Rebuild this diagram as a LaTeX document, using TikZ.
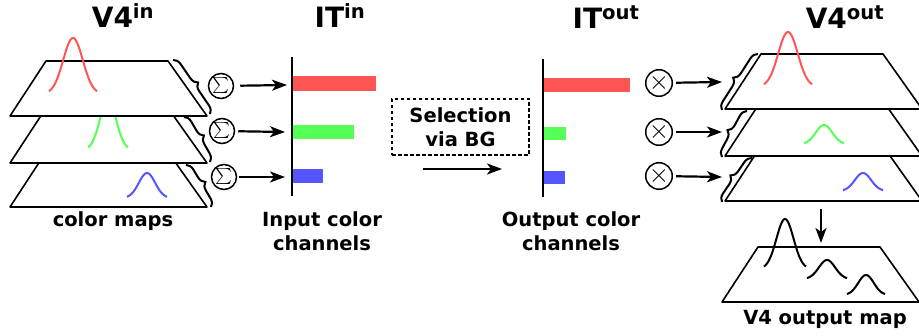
\documentclass[tikz,border=0pt]{standalone}
\usepackage{fontspec}
\usepackage{graphicx}
\setmainfont{DejaVu Sans}
\usetikzlibrary{arrows.meta,decorations.pathreplacing}

\definecolor{mapred}{HTML}{FF5555}
\definecolor{mapgreen}{HTML}{55FF55}
\definecolor{mapblue}{HTML}{5555FF}

\tikzset{
  sheet/.style={fill=white,draw=black,line width=1.6pt,line join=round},
  curve/.style={line width=2pt},
  arr/.style={-{Stealth[length=15pt,width=11pt,inset=4pt]},line width=2.2pt},
  opc/.style={circle,draw,line width=1.5pt,minimum size=25pt,inner sep=0pt},
  brc/.style={decorate,decoration={brace,amplitude=8pt},line width=2pt},
  ttl/.style={font=\fontsize{28}{30}\selectfont\bfseries,anchor=base,inner sep=0pt},
  lbl/.style={font=\fontsize{19.5}{24.5}\selectfont\bfseries,align=center,inner sep=0pt},
}

% map sheet, lower left corner at (#1,#2)
\newcommand{\mapsheet}[2]{%
  \filldraw[sheet] (#1,#2) -- ++(197,0) -- ++(-39,-55) -- ++(-122,0) -- cycle;}
% bump: colour, centre x, base y, half width, height
\newcommand{\bump}[5]{%
  \draw[curve,#1] plot[domain=-1:1,samples=40] ({#2+#4*\x},{#3+2-#5*exp(-3*\x*\x)});}
\newcommand{\sumsym}{\scalebox{1.6}{$\sum$}}
\newcommand{\prodsym}{\scalebox{2.6}{$\times$}}

\begin{document}
\begin{tikzpicture}[x=1pt,y=-1pt]
    \useasboundingbox (0,0) rectangle (919,336);

    % V4 in
    \node[ttl] (v4in) at (123,28) {V4\textsuperscript{in}};
    \mapsheet{10}{207} \bump{mapblue}{147}{196}{20}{25}
    \mapsheet{10}{163} \bump{mapgreen}{108}{148}{20}{50}
    \mapsheet{10}{116} \bump{mapred}{73}{92}{24}{56}
    \draw[brc] (173,60) -- (210,114);
    \draw[brc] (184,117) -- (210,162);
    \draw[brc] (186,165) -- (211,207);
    \node[lbl,anchor=base] (maps) at (113,227) {color maps};

    % sums
    \node[opc] (s1) at (221,86) {\sumsym};
    \node[opc] (s2) at (222,131) {\sumsym};
    \node[opc] (s3) at (224,177) {\sumsym};
    \coordinate (in1) at (287,85);
    \coordinate (in2) at (285,132);
    \coordinate (in3) at (285,177);
    \draw[arr,shorten <=6pt] (s1) -- (in1);
    \draw[arr,shorten <=3pt] (s2) -- (in2);
    \draw[arr,shorten <=2pt] (s3) -- (in3);

    % IT in
    \node[ttl] (itin) at (340,28) {IT\textsuperscript{in}};
    \fill[mapred] (293,76) rectangle (376,91);
    \fill[mapgreen] (293,125) rectangle (354,139);
    \fill[mapblue] (293,169) rectangle (323,183);
    \draw[line width=1.8pt] (292,57) -- (292,196);
    \node[lbl,anchor=north] (inch) at (322,211) {Input color\\channels};

    % selection
    \node[lbl,draw,dash pattern=on 3.5pt off 2.5pt,line width=1.2pt,minimum width=137pt,minimum height=56pt] (sel) at (460.5,127) {Selection\\via BG};
    \coordinate (bg0) at (423,169);
    \coordinate (bg1) at (502,169);
    \draw[arr] (bg0) -- (bg1);

    % IT out
    \node[ttl] (itout) at (606,29) {IT\textsuperscript{out}};
    \fill[mapred] (544,78) rectangle (630,92);
    \fill[mapgreen] (544,127) rectangle (566,140);
    \fill[mapblue] (544,171) rectangle (565,184);
    \draw[line width=1.8pt] (543,59) -- (543,197);
    \node[lbl,anchor=north] (outch) at (571,211) {Output color\\channels};

    % products
    \node[opc] (p1) at (659,83) {\prodsym};
    \node[opc] (p2) at (659,132) {\prodsym};
    \node[opc] (p3) at (659,176) {\prodsym};
    \coordinate (out1) at (722,82);
    \coordinate (out2) at (722,132);
    \coordinate (out3) at (722,177);
    \draw[arr,shorten <=3pt] (p1) -- (out1);
    \draw[arr,shorten <=3pt] (p2) -- (out2);
    \draw[arr,shorten <=3pt] (p3) -- (out3);

    % V4 out
    \node[ttl] (v4out) at (845,29) {V4\textsuperscript{out}};
    \mapsheet{725}{201} \bump{mapblue}{863}{189}{20}{18}
    \mapsheet{725}{156} \bump{mapgreen}{824}{142}{20}{19}
    \mapsheet{725}{109} \bump{mapred}{788}{85}{24}{55}
    \draw[brc] (722,110) -- (758,54);
    \draw[brc] (722,157) -- (747,111);
    \draw[brc] (722,202) -- (752,158);

    % output map
    \coordinate (dn0) at (821,209);
    \coordinate (dn1) at (821,243);
    \draw[arr] (dn0) -- (dn1);
    \mapsheet{722}{302}
    \bump{black}{785}{267}{21}{50}
    \bump{black}{827}{277}{20}{19}
    \bump{black}{866}{293}{19}{20}
    \node[lbl,anchor=base] (outmap) at (825,325) {V4 output map};
\end{tikzpicture}
\end{document}
